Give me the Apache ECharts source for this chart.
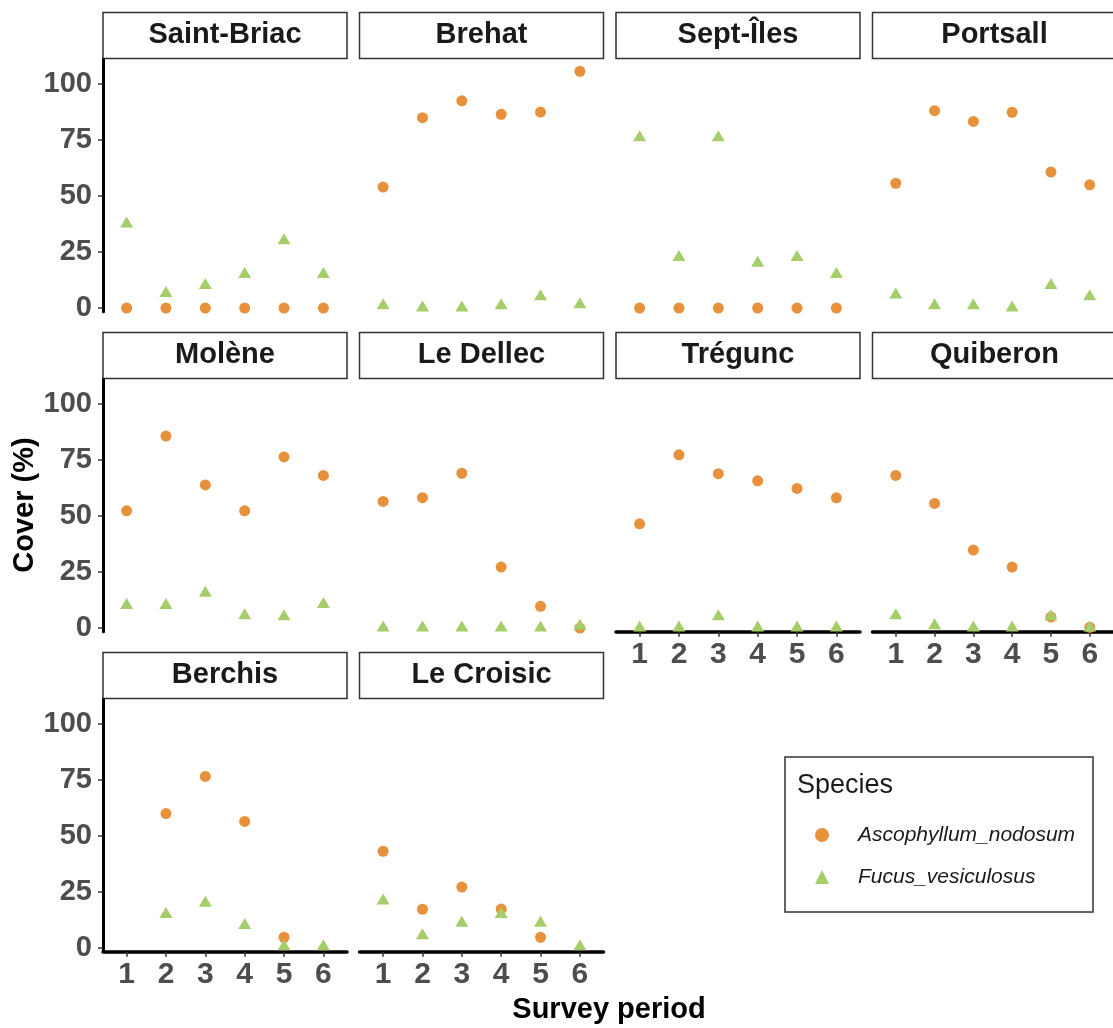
<!DOCTYPE html>
<html>
<head>
<meta charset="utf-8">
<script src="https://cdn.jsdelivr.net/npm/echarts@6/dist/echarts.min.js"></script>
<style>
html,body{margin:0;padding:0;background:#fff;}
#chart{width:1113px;height:1028px;}
</style>
</head>
<body>
<div id="chart"></div>
<script>
// ---- data ----
const sites = ['Saint-Briac','Brehat','Sept-Îles','Portsall','Molène','Le Dellec','Trégunc','Quiberon','Berchis','Le Croisic'];
const periods = [1, 2, 3, 4, 5, 6];
const yTicks = [0, 25, 50, 75, 100];
const speciesNames = ['Ascophyllum_nodosum', 'Fucus_vesiculosus'];
// Ascophyllum nodosum cover (%) per site, periods 1..6
const ascophyllumCover = [
  [0, 0, 0, 0, 0, 0],
  [54, 85, 92.5, 86.5, 87.5, 105.7],
  [0, 0, 0, 0, 0, 0],
  [55.7, 88.1, 83.3, 87.4, 60.7, 55],
  [52.3, 85.7, 63.9, 52.3, 76.4, 68.1],
  [56.5, 58.2, 69.1, 27.2, 9.7, 0],
  [46.5, 77.3, 68.9, 65.7, 62.3, 58.1],
  [68.1, 55.6, 34.8, 27.2, 4.9, 0.3],
  [null, 60, 76.6, 56.5, 4.8, null],
  [43.2, 17.3, 27.2, 17.4, 4.8, null]
];
// Fucus vesiculosus cover (%) per site, periods 1..6
const fucusCover = [
  [37.5, 6.5, 10, 15, 30, 15],
  [1, 0, 0, 1, 5, 1.5],
  [76, 22.5, 76, 20, 22.5, 15],
  [5.8, 1, 1, 0, 10, 5],
  [10, 10, 15.5, 5.5, 5, 10.5],
  [0, 0, 0, 0, 0, 0.8],
  [0, 0, 5, 0, 0, 0],
  [5.5, 1, 0, 0, 5, 0],
  [null, 15, 20, 10, 0.5, 0.5],
  [21, 5.5, 11, 15, 11, 0.5]
];

// ---- layout / style ----
const FONT = "'Liberation Sans', Arial, Helvetica, sans-serif";
const ORANGE = '#e8913c';
const GREEN = '#a5cd6a';
const colLeft = [103, 359.5, 616, 872.5];
const rowTop = [59.4, 379.4, 699.4];
const panelW = 244;
const panelH = 252.4;
const stripH = 46;

const grids = [], xAxes = [], yAxes = [], series = [], graphics = [];

sites.forEach((site, i) => {
  const r = Math.floor(i / 4), c = i % 4;
  const left = colLeft[c], top = rowTop[r];
  grids.push({ left: left, top: top, width: panelW, height: panelH, containLabel: false });
  const showX = i >= 6;
  const showY = c === 0;
  xAxes.push({
    gridIndex: i, type: 'value', min: 0.4, max: 6.6, show: showX,
    axisLine: { show: true, onZero: false, lineStyle: { color: '#000', width: 3.5 } },
    axisTick: { show: true, customValues: periods, length: 5, lineStyle: { color: '#333', width: 1.5 } },
    axisLabel: { customValues: periods, fontSize: 30, fontWeight: 'bold', color: '#4d4d4d', fontFamily: FONT, margin: 8 },
    splitLine: { show: false }
  });
  yAxes.push({
    gridIndex: i, type: 'value', min: -1.7, max: 111, show: showY,
    axisLine: { show: true, onZero: false, lineStyle: { color: '#000', width: 3 } },
    axisTick: { show: true, customValues: yTicks, length: 5, lineStyle: { color: '#333', width: 1.5 } },
    axisLabel: { customValues: yTicks, fontSize: 29, fontWeight: 'bold', color: '#4d4d4d', fontFamily: FONT, margin: 11 },
    splitLine: { show: false }
  });
  series.push({
    type: 'scatter', name: speciesNames[0], xAxisIndex: i, yAxisIndex: i,
    symbol: 'circle', symbolSize: 11, z: 2,
    itemStyle: { color: ORANGE, opacity: 1 },
    data: periods.map((p, k) => [p, ascophyllumCover[i][k]]).filter(d => d[1] !== null)
  });
  series.push({
    type: 'scatter', name: speciesNames[1], xAxisIndex: i, yAxisIndex: i,
    symbol: 'triangle', symbolSize: [13, 11], symbolOffset: [0, -2], z: 3,
    itemStyle: { color: GREEN, opacity: 1 },
    data: periods.map((p, k) => [p, fucusCover[i][k]]).filter(d => d[1] !== null)
  });
  graphics.push({
    type: 'rect', shape: { x: left, y: top - stripH - 1, width: panelW, height: stripH },
    style: { fill: '#fff', stroke: '#333', lineWidth: 1.5 }
  });
  graphics.push({
    type: 'text', x: left + panelW / 2, y: top - stripH / 2 - 1,
    style: { text: site, fill: '#1a1a1a', font: 'bold 29px ' + FONT, textAlign: 'center', textVerticalAlign: 'middle' }
  });
});

// axis titles
graphics.push({
  type: 'text', x: 25, y: 505, rotation: Math.PI / 2,
  style: { text: 'Cover (%)', fill: '#000', font: 'bold 29px ' + FONT, textAlign: 'center', textVerticalAlign: 'middle' }
});
graphics.push({
  type: 'text', x: 609, y: 1010,
  style: { text: 'Survey period', fill: '#000', font: 'bold 29px ' + FONT, textAlign: 'center', textVerticalAlign: 'middle' }
});
// legend box and title
graphics.push({
  type: 'rect', shape: { x: 785, y: 757, width: 308, height: 155 },
  style: { fill: 'rgba(0,0,0,0)', stroke: '#333', lineWidth: 1.5 }
});
graphics.push({
  type: 'text', x: 797, y: 786,
  style: { text: 'Species', fill: '#1a1a1a', font: '27px ' + FONT, textAlign: 'left', textVerticalAlign: 'middle' }
});

const chart = echarts.init(document.getElementById('chart'), null, { renderer: 'canvas' });
chart.setOption({
  animation: false,
  backgroundColor: '#fff',
  grid: grids,
  xAxis: xAxes,
  yAxis: yAxes,
  series: series,
  legend: {
    data: speciesNames, orient: 'vertical', left: 810, top: 819,
    itemWidth: 14, itemHeight: 14, itemGap: 20, selectedMode: false, z: 10,
    textStyle: { fontSize: 21, fontStyle: 'italic', fontFamily: FONT, color: '#1a1a1a', lineHeight: 22, padding: [0, 0, 0, 24] }
  },
  graphic: graphics
});
</script>
</body>
</html>
